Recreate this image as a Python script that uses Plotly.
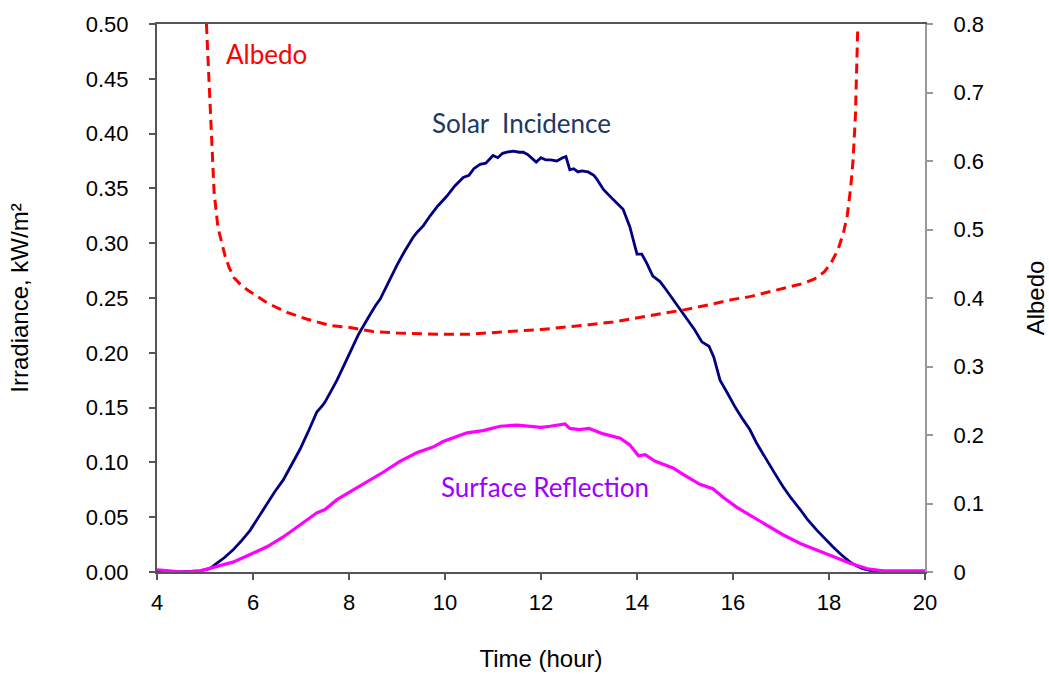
import plotly.graph_objects as go

# Solar incidence (kW/m2)
solar_t = [4.0, 4.5, 4.9, 5.1, 5.25, 5.4, 5.58, 5.75, 5.94, 6.1, 6.29, 6.45, 6.63, 6.8, 6.98, 7.15,
           7.33, 7.45, 7.5, 7.6, 7.75, 7.9, 8.02, 8.2, 8.4, 8.55, 8.65, 8.85, 9.0, 9.15, 9.33, 9.42,
           9.55, 9.69, 9.85, 10.04, 10.2, 10.38, 10.5, 10.6, 10.73, 10.85, 11.0, 11.1, 11.2, 11.29,
           11.42, 11.55, 11.63, 11.72, 11.8, 11.9, 12.0, 12.1, 12.2, 12.33, 12.45, 12.52, 12.6, 12.68,
           12.77, 12.85, 12.98, 13.1, 13.17, 13.3, 13.5, 13.71, 13.85, 14.0, 14.1, 14.2, 14.33, 14.48,
           14.6, 14.73, 14.9, 15.05, 15.2, 15.35, 15.5, 15.6, 15.73, 15.9, 16.05, 16.21, 16.35, 16.5,
           16.7, 16.87, 17.04, 17.2, 17.4, 17.55, 17.75, 17.9, 18.08, 18.25, 18.44, 18.6, 18.7, 18.9,
           19.2, 20.0]
solar_v = [0.0, 0.0, 0.001, 0.003, 0.008, 0.013, 0.020, 0.028, 0.038, 0.049, 0.063, 0.073, 0.084, 0.097,
           0.112, 0.128, 0.146, 0.152, 0.155, 0.163, 0.175, 0.189, 0.200, 0.217, 0.232, 0.243, 0.249,
           0.267, 0.280, 0.292, 0.305, 0.310, 0.316, 0.325, 0.334, 0.343, 0.352, 0.360, 0.362, 0.368,
           0.372, 0.373, 0.380, 0.378, 0.382, 0.383, 0.384, 0.383, 0.383, 0.381, 0.378, 0.374, 0.378,
           0.376, 0.376, 0.375, 0.378, 0.379, 0.367, 0.368, 0.365, 0.366, 0.365, 0.362, 0.358, 0.349,
           0.340, 0.331, 0.315, 0.290, 0.290, 0.282, 0.270, 0.265, 0.258, 0.250, 0.240, 0.230, 0.221,
           0.210, 0.206, 0.196, 0.175, 0.162, 0.150, 0.139, 0.130, 0.117, 0.102, 0.090, 0.078, 0.068,
           0.057, 0.048, 0.038, 0.031, 0.023, 0.016, 0.009, 0.005, 0.003, 0.001, 0.0, 0.0]

# Surface reflection (kW/m2)
refl_t = [4.0, 4.55, 4.9, 5.25, 5.58, 5.94, 6.29, 6.63, 6.98, 7.33, 7.5, 7.75, 8.02, 8.38, 8.71, 9.06,
          9.42, 9.75, 9.96, 10.2, 10.46, 10.79, 11.15, 11.5, 11.83, 12.0, 12.19, 12.5, 12.6, 12.8, 13.0,
          13.3, 13.65, 13.85, 14.03, 14.17, 14.38, 14.75, 14.96, 15.31, 15.58, 15.8, 16.08, 16.35,
          16.7, 17.04, 17.4, 17.75, 18.08, 18.44, 18.8, 19.13, 20.0]
refl_v = [0.002, 0.0, 0.001, 0.005, 0.009, 0.016, 0.023, 0.032, 0.043, 0.054, 0.057, 0.066, 0.073, 0.082,
          0.091, 0.101, 0.109, 0.114, 0.119, 0.123, 0.127, 0.129, 0.133, 0.134, 0.133, 0.132, 0.133,
          0.135, 0.131, 0.130, 0.131, 0.126, 0.122, 0.116, 0.106, 0.107, 0.101, 0.095, 0.089, 0.080,
          0.076, 0.068, 0.059, 0.052, 0.043, 0.034, 0.026, 0.020, 0.014, 0.008, 0.003, 0.001, 0.001]

# Albedo (right axis)
alb_t = [5.03, 5.1, 5.15, 5.19, 5.27, 5.35, 5.42, 5.5, 5.6, 5.75, 5.9, 6.29, 6.71, 7.13, 7.6, 8.02, 8.5,
         9.0, 9.42, 9.9, 10.5, 11.0, 11.5, 12.0, 12.5, 13.0, 13.5, 14.0, 14.5, 15.0, 15.5, 16.0, 16.35,
         16.7, 17.1, 17.45, 17.7, 17.9, 18.05, 18.19, 18.3, 18.38, 18.45, 18.5, 18.55, 18.58, 18.6]
alb_v = [0.80, 0.69, 0.617, 0.554, 0.503, 0.481, 0.461, 0.445, 0.430, 0.419, 0.411, 0.393, 0.379, 0.369,
         0.360, 0.357, 0.351, 0.349, 0.348, 0.347, 0.347, 0.350, 0.352, 0.354, 0.357, 0.361, 0.365,
         0.371, 0.376, 0.383, 0.390, 0.398, 0.402, 0.408, 0.415, 0.421, 0.428, 0.438, 0.452, 0.471,
         0.495, 0.520, 0.560, 0.600, 0.665, 0.739, 0.797]

fig = go.Figure()
fig.add_trace(go.Scatter(x=alb_t, y=alb_v, yaxis="y2", mode="lines",
                         line=dict(color="#FF0000", width=3, dash="10px,6px"), showlegend=False))
fig.add_trace(go.Scatter(x=solar_t, y=solar_v, mode="lines",
                         line=dict(color="#000080", width=2.8), showlegend=False))
fig.add_trace(go.Scatter(x=refl_t, y=refl_v, mode="lines",
                         line=dict(color="#FF00FF", width=3.2), showlegend=False))

ann_font = "Lato, Open Sans, sans-serif"
fig.add_annotation(x=6.29, y=0.4726, text="Albedo", showarrow=False,
                   font=dict(family=ann_font, size=26, color="#FF0000"))
fig.add_annotation(x=11.6, y=0.410, text="Solar&nbsp;&nbsp;Incidence", showarrow=False,
                   font=dict(family=ann_font, size=26, color="#203864"))
fig.add_annotation(x=12.08, y=0.0777, text="Surface Reflection", showarrow=False,
                   font=dict(family=ann_font, size=26, color="#9D00FF"))

tick_font = dict(family="Liberation Sans, Arial, sans-serif", size=22, color="#000000")
title_font = dict(family="Liberation Sans, Arial, sans-serif", size=24, color="#000000")
fig.update_layout(
    width=1049, height=681,
    margin=dict(l=157, r=124, t=24, b=109),
    paper_bgcolor="white", plot_bgcolor="white",
    font=tick_font,
    xaxis=dict(range=[4, 20], dtick=2, tick0=4, showgrid=False, zeroline=False, automargin=False,
               showline=True, linecolor="#555555", linewidth=2, mirror=True,
               ticks="outside", ticklen=6, tickcolor="#555555", tickwidth=1.5,
               ticklabelstandoff=4,
               title=dict(text="Time (hour)", font=title_font, standoff=36),
               tickfont=tick_font),
    yaxis=dict(range=[0, 0.5], dtick=0.05, tickformat=".2f", showgrid=False, zeroline=False,
               automargin=False,
               showline=True, linecolor="#555555", linewidth=2,
               ticks="outside", ticklen=6, tickcolor="#555555", tickwidth=1.5,
               ticklabelstandoff=16,
               title=dict(text="Irradiance, kW/m²", font=title_font, standoff=50),
               tickfont=tick_font),
    yaxis2=dict(range=[0, 0.8], dtick=0.1, overlaying="y", side="right", showgrid=False,
                automargin=False,
                zeroline=False, showline=True, linecolor="#999999", linewidth=2,
                ticks="outside", ticklen=6, tickcolor="#999999", tickwidth=1.5,
                ticklabelstandoff=16,
                title=dict(text="Albedo", font=title_font, standoff=62),
                tickfont=tick_font),
)

fig.write_html("out.html")
